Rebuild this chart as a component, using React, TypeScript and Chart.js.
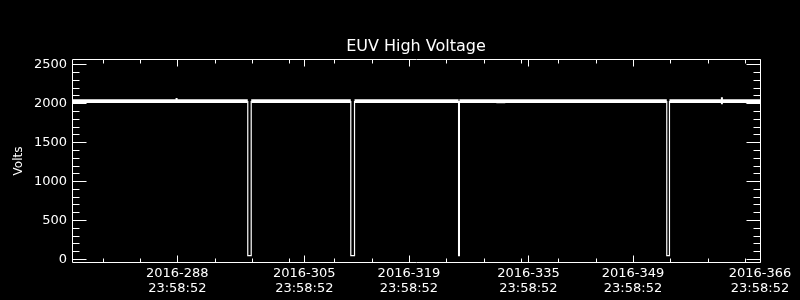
import React, { useEffect, useRef } from "react";
import { Chart, registerables } from "chart.js";

Chart.register(...registerables);

// ---- data ----
const chartTitle = "EUV High Voltage";
const yAxisTitle = "Volts";

// day-of-year 2016 (fractional) and EUV high voltage readings
const days = [
  273.9, 275.8, 278.5, 282.0, 285.5, 287.9, 291.0, 294.5, 297.43, 297.43, 297.89, 297.89,
  300.5, 304.0, 307.5, 311.22, 311.22, 311.72, 311.72, 314.5, 318.0, 321.5, 325.65, 325.65,
  325.76, 325.76, 329.0, 330.8, 331.9, 335.0, 338.5, 342.0, 345.5, 349.0, 353.52, 353.52,
  353.88, 353.88, 357.0, 360.9, 364.1, 366.0,
];
const volts = [
  2028, 2028, 2028, 2028, 2028, 2028, 2028, 2028, 2028, 44, 44, 2028,
  2028, 2028, 2028, 2028, 44, 44, 2028, 2028, 2028, 2028, 2028, 44,
  44, 2028, 2028, 2027, 2028, 2028, 2028, 2028, 2028, 2028, 2028, 44,
  44, 2028, 2028, 2028, 2028, 2028,
];

// short excursions visible on the band
const noiseDays = [273.9, 275.8, null, 287.9, 287.9, null, 330.7, 331.9, null, 360.9, 360.9, null, 364.1, 366.0];
const noiseVolts = [2010, 2010, null, 2066, 2028, null, 2012, 2012, null, 2076, 1988, null, 2012, 2012];

const xMajorTicks = [288, 305, 319, 335, 349, 366];
const xMajorLabels = ["2016-288", "2016-305", "2016-319", "2016-335", "2016-349", "2016-366"];
const xTimeLabel = "23:58:52";
const xMinorTicks = [278, 283, 293, 298, 303, 309, 314, 324, 329, 334, 339, 344, 354, 359, 364];
const yMajorTicks = [0, 500, 1000, 1500, 2000, 2500];
const yMinorTicks = [
  100, 200, 300, 400, 600, 700, 800, 900, 1100, 1200, 1300, 1400,
  1600, 1700, 1800, 1900, 2100, 2200, 2300, 2400,
];

const X_MIN = 273.9;
const X_MAX = 366;
const Y_MIN = -52;
const Y_MAX = 2568;

const FONT = "'DejaVu Sans', sans-serif";

const framePlugin = {
  id: "idlFrame",
  afterDraw(chart: any) {
    const ctx = chart.ctx;
    const { left, right, top, bottom } = chart.chartArea;
    const xs = chart.scales.x;
    const ys = chart.scales.y;
    const L = Math.round(left) + 0.5;
    const R = Math.round(right) + 0.5;
    const T = Math.round(top) + 0.5;
    const B = Math.round(bottom) - 0.5;
    ctx.save();
    ctx.strokeStyle = "#ffffff";
    ctx.fillStyle = "#ffffff";
    ctx.lineWidth = 1;
    ctx.beginPath();
    ctx.rect(L, T, R - L, B - T);
    const yTick = (v: number, len: number) => {
      const p = Math.round(ys.getPixelForValue(v)) + 0.5;
      ctx.moveTo(L, p);
      ctx.lineTo(L + len, p);
      ctx.moveTo(R, p);
      ctx.lineTo(R - len, p);
    };
    yMajorTicks.forEach((v) => yTick(v, 14));
    yMinorTicks.forEach((v) => yTick(v, 7));
    const xTick = (v: number, len: number) => {
      const p = Math.round(xs.getPixelForValue(v)) + 0.5;
      ctx.moveTo(p, B);
      ctx.lineTo(p, B - len);
      ctx.moveTo(p, T);
      ctx.lineTo(p, T + len);
    };
    xMajorTicks.forEach((v) => xTick(v, 7));
    xMinorTicks.forEach((v) => xTick(v, 4));
    ctx.stroke();

    ctx.font = `13px ${FONT}`;
    ctx.textAlign = "right";
    ctx.textBaseline = "middle";
    yMajorTicks.forEach((v) => {
      ctx.fillText(String(v), 67, ys.getPixelForValue(v) + 0.5);
    });
    ctx.textAlign = "center";
    xMajorTicks.forEach((v, i) => {
      const p = xs.getPixelForValue(v);
      ctx.fillText(xMajorLabels[i], p, 274);
      ctx.fillText(xTimeLabel, p, 289);
    });
    ctx.font = `16px ${FONT}`;
    ctx.fillText(chartTitle, (left + right) / 2, 47);
    ctx.font = `12px ${FONT}`;
    ctx.translate(19, (top + bottom) / 2);
    ctx.rotate(-Math.PI / 2);
    ctx.fillText(yAxisTitle, 0, 0);
    ctx.restore();
  },
};

export default function App() {
  const ref = useRef<HTMLCanvasElement | null>(null);
  useEffect(() => {
    if (!ref.current) return;
    const main = days.map((d, i) => ({ x: d, y: volts[i] }));
    const noise = noiseDays.map((d, i) => ({ x: d as any, y: noiseVolts[i] as any }));
    const chart = new Chart(ref.current, {
      type: "line",
      data: {
        datasets: [
          {
            data: main,
            borderColor: "#ffffff",
            borderWidth: 1.2,
            pointRadius: 0,
            tension: 0,
            segment: {
              borderWidth: (c: any) =>
                c.p0.parsed.y > 1500 && c.p1.parsed.y > 1500 ? 3.8 : 1.2,
            },
          } as any,
          {
            data: noise,
            borderColor: "#ffffff",
            borderWidth: 2,
            pointRadius: 0,
            spanGaps: false,
          } as any,
        ],
      },
      options: {
        animation: false,
        responsive: false,
        layout: { padding: { left: 72, right: 40, top: 59, bottom: 37 } },
        scales: {
          x: { type: "linear", min: X_MIN, max: X_MAX, display: false },
          y: { type: "linear", min: Y_MIN, max: Y_MAX, display: false },
        },
        plugins: { legend: { display: false }, tooltip: { enabled: false } },
      },
      plugins: [framePlugin],
    });
    return () => chart.destroy();
  }, []);
  return (
    <div style={{ position: "fixed", left: 0, top: 0, width: 800, height: 300, background: "#000" }}>
      <canvas ref={ref} width={800} height={300} style={{ display: "block" }} />
    </div>
  );
}
